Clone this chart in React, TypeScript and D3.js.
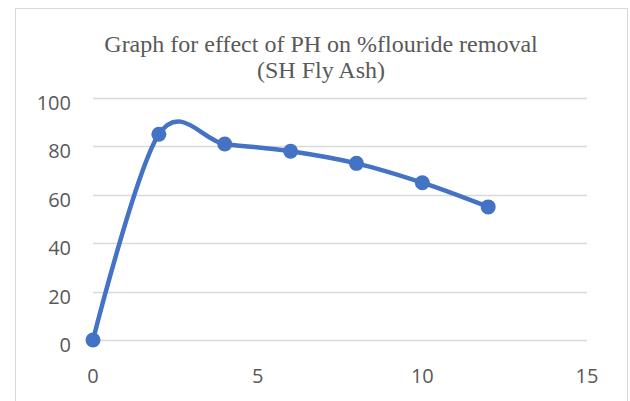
import React from 'react';
import * as d3 from 'd3';

const phValues = [0, 2, 4, 6, 8, 10, 12];
const removalValues = [0, 85, 81, 78, 73, 65, 55];
const xTicks = [0, 5, 10, 15];
const yTicks = [0, 20, 40, 60, 80, 100];
const titleLines = ['Graph for effect of PH on %flouride removal', '(SH Fly Ash)'];

export default function App() {
  const width = 630;
  const height = 401;
  const plot = { left: 93, right: 587, top: 98, bottom: 340 };

  const x = d3.scaleLinear().domain([0, 15]).range([plot.left, plot.right]);
  const y = d3.scaleLinear().domain([0, 100]).range([plot.bottom, plot.top]);

  const points = phValues.map((p, i) => [p, removalValues[i]] as [number, number]);
  // excel-like smoothing
  const line = d3
    .line<[number, number]>()
    .x((d) => x(d[0]))
    .y((d) => y(d[1]))
    .curve(d3.curveCardinal.tension(0));

  const axisColor = '#595959';
  const sans = '"Open Sans", "Liberation Sans", sans-serif';

  return (
    <svg
      width={width}
      height={height}
      style={{ position: 'absolute', left: 0, top: 0, background: '#fff' }}
    >
      <rect x={15.5} y={8.5} width={612} height={420} fill="#fff" stroke="#d9d9d9" />
      {titleLines.map((t, i) => (
        <text
          key={t}
          x={321}
          y={52 + i * 26}
          textAnchor="middle"
          fontFamily='"Liberation Serif", "Times New Roman", serif'
          fontSize={24}
          fill={axisColor}
        >
          {t}
        </text>
      ))}
      {yTicks.map((t) => (
        <g key={t}>
          <line
            x1={plot.left}
            x2={plot.right}
            y1={Math.round(y(t)) + 0.5}
            y2={Math.round(y(t)) + 0.5}
            stroke="#d9d9d9"
            strokeWidth={1.5}
          />
          <text
            x={71}
            y={y(t) + 12}
            textAnchor="end"
            fontFamily={sans}
            fontSize={20}
            fill={axisColor}
          >
            {t}
          </text>
        </g>
      ))}
      {xTicks.map((t) => (
        <text
          key={t}
          x={x(t)}
          y={383}
          textAnchor="middle"
          fontFamily={sans}
          fontSize={20}
          fill={axisColor}
        >
          {t}
        </text>
      ))}
      <path d={line(points) || ''} fill="none" stroke="#4472c4" strokeWidth={4.5} />
      {points.map((d, i) => (
        <circle key={i} cx={x(d[0])} cy={y(d[1])} r={7.5} fill="#4472c4" />
      ))}
    </svg>
  );
}
